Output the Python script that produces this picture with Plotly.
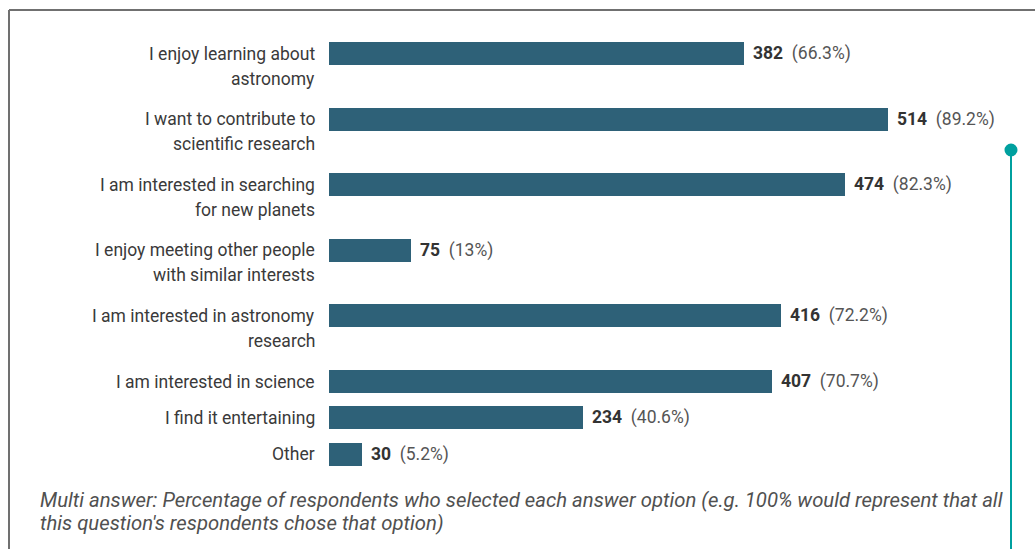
import plotly.graph_objects as go

categories = [
    "I enjoy learning about<br>astronomy",
    "I want to contribute to<br>scientific research",
    "I am interested in searching<br>for new planets",
    "I enjoy meeting other people<br>with similar interests",
    "I am interested in astronomy<br>research",
    "I am interested in science",
    "I find it entertaining",
    "Other",
]
counts = [382, 514, 474, 75, 416, 407, 234, 30]
percents = ["66.3%", "89.2%", "82.3%", "13%", "72.2%", "70.7%", "40.6%", "5.2%"]
footnote = [
    "Multi answer: Percentage of respondents who selected each answer option (e.g. 100% would represent that all",
    "this question's respondents chose that option)",
]

W, H = 1035, 549
BAR_LEFT = 329          # pixel where value 0 sits
PX_PER_UNIT = (888 - 329) / 514
BAR_H = 23
FIRST_TOP = 42
LINE_GAP = 25

# layout of rows: each row height depends on label line count
centers = []
top = FIRST_TOP
for c in categories:
    n = c.count("<br>") + 1
    centers.append(top + BAR_H / 2)
    top += 36.4 + 29.2 * (n - 1)

BAR_COLOR = "#2e6178"
TEXT = "#3a3a3a"
TEAL = "#00a09f"
FONT = "Roboto"

fig = go.Figure()
fig.add_trace(go.Bar(
    x=counts, y=centers, orientation="h", width=BAR_H,
    marker=dict(color=BAR_COLOR, line=dict(width=0)),
    hoverinfo="skip",
))

ann = []
for cat, yc in zip(categories, centers):
    for k, line in enumerate(cat.split("<br>")):
        ann.append(dict(x=0, y=yc + k * LINE_GAP, xref="x", yref="y", text=line,
                        xanchor="right", yanchor="middle", xshift=-12, showarrow=False,
                        font=dict(family=FONT, size=17.5, color=TEXT)))
for v, p, yc in zip(counts, percents, centers):
    ann.append(dict(x=v, y=yc, xref="x", yref="y",
                    text=f"<b>{v}</b>&nbsp;&nbsp;<span style='color:#555555'>({p})</span>",
                    xanchor="left", yanchor="middle", xshift=7, showarrow=False,
                    font=dict(family=FONT, size=17.5, color="#333333")))
for k, line in enumerate(footnote):
    ann.append(dict(x=38 / W, y=1 - (500 + 23 * k) / H, xref="paper", yref="paper", text=f"<i>{line}</i>",
                    xanchor="left", yanchor="middle", showarrow=False,
                    font=dict(family=FONT, size=20.3, color="#505050")))

def px(x):
    return x / W

def py(y):
    return 1 - y / H

shapes = [
    dict(type="line", xref="paper", yref="paper", x0=px(9), x1=px(W), y0=py(10), y1=py(10),
         line=dict(color="#707070", width=2)),
    dict(type="line", xref="paper", yref="paper", x0=px(9), x1=px(9), y0=py(10), y1=py(H),
         line=dict(color="#707070", width=2)),
    dict(type="line", xref="paper", yref="paper", x0=px(1011), x1=px(1011), y0=py(150), y1=py(H),
         line=dict(color=TEAL, width=2)),
    dict(type="circle", xref="paper", yref="paper", x0=px(1004.5), x1=px(1017.5), y0=py(143.5), y1=py(156.5),
         fillcolor=TEAL, line=dict(color=TEAL, width=0)),
]

fig.update_layout(
    width=W, height=H, margin=dict(l=0, r=0, t=0, b=0),
    paper_bgcolor="white", plot_bgcolor="white", showlegend=False,
    xaxis=dict(range=[-BAR_LEFT / PX_PER_UNIT, (W - BAR_LEFT) / PX_PER_UNIT], visible=False, fixedrange=True),
    yaxis=dict(range=[H, 0], visible=False, fixedrange=True),
    annotations=ann, shapes=shapes, bargap=0,
)
fig.write_html("out.html", config={"displayModeBar": False})
